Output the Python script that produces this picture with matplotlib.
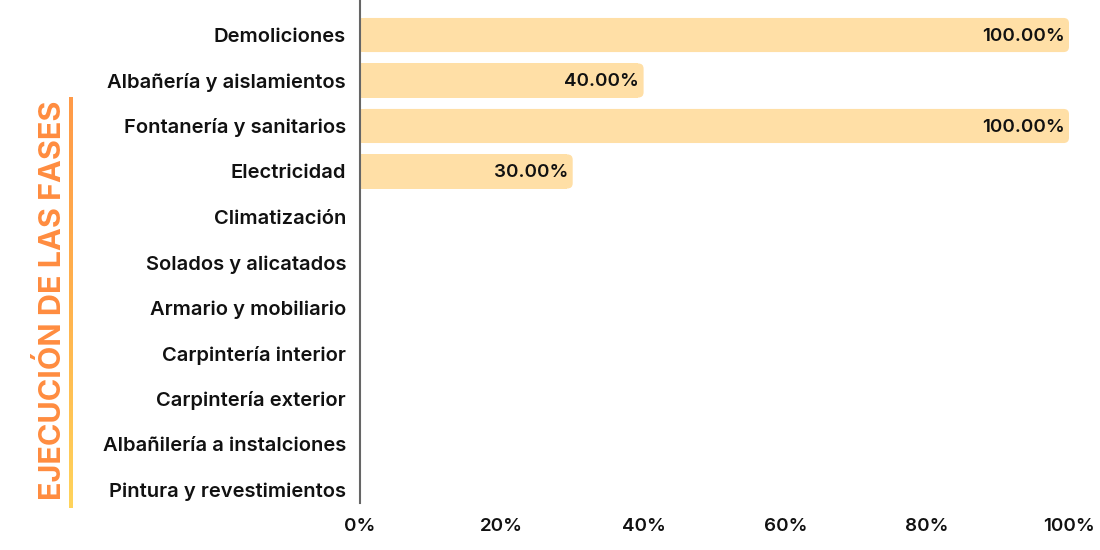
import matplotlib.pyplot as plt
import numpy as np
from matplotlib.patches import FancyBboxPatch, Rectangle
from matplotlib.colors import LinearSegmentedColormap
from matplotlib.ticker import FuncFormatter

phases = [
    "Demoliciones",
    "Albañería y aislamientos",
    "Fontanería y sanitarios",
    "Electricidad",
    "Climatización",
    "Solados y alicatados",
    "Armario y mobiliario",
    "Carpintería interior",
    "Carpintería exterior",
    "Albañilería a instalciones",
    "Pintura y revestimientos",
]
progress = [100, 40, 100, 30, 0, 0, 0, 0, 0, 0, 0]
x_ticks = [0, 20, 40, 60, 80, 100]
side_title = "EJECUCIÓN DE LAS FASES"

BAR_COLOR = "#FFDFA6"
TEXT_COLOR = "#111111"
LABEL_SIZE = 14.5
VALUE_SIZE = 13.5

plt.rcParams["font.family"] = ["Inter", "Open Sans", "DejaVu Sans"]

W, H = 1100, 550
fig = plt.figure(figsize=(W / 100, H / 100), dpi=100)
ax = fig.add_axes([360 / W, 47 / H, 709 / W, 503 / H])

n = len(phases)
ax.set_xlim(0, 100)
ax.set_ylim(n - 1 + 0.29, -0.77)

bar_h = 0.75
rx = 0.75  # corner radius in x units (~5 px)
aspect = (503 / (n + 0.06)) / (709 / 100)
for i, v in enumerate(progress):
    if v <= 0:
        continue
    ax.add_patch(Rectangle((0, i - bar_h / 2), v - rx, bar_h,
                           facecolor=BAR_COLOR, edgecolor="none"))
    ax.add_patch(FancyBboxPatch((0, i - bar_h / 2), v, bar_h,
                                boxstyle=f"round,pad=0,rounding_size={rx}",
                                mutation_aspect=1 / aspect,
                                facecolor=BAR_COLOR, edgecolor="none"))
    ax.text(v - 0.6, i + 0.03, f"{v:.2f}%", ha="right", va="center",
            fontsize=VALUE_SIZE, fontweight="semibold", color=TEXT_COLOR)

ax.set_yticks(range(n))
ax.set_yticklabels(phases, fontsize=LABEL_SIZE, fontweight="semibold", color=TEXT_COLOR)
ax.set_xticks(x_ticks)
ax.xaxis.set_major_formatter(FuncFormatter(lambda x, _: f"{x:.0f}%"))
for lbl in ax.get_xticklabels():
    lbl.set_fontsize(VALUE_SIZE)
    lbl.set_fontweight("semibold")
    lbl.set_color(TEXT_COLOR)
ax.tick_params(axis="both", length=0)
ax.tick_params(axis="y", pad=10)
ax.tick_params(axis="x", pad=11)

for side in ["top", "right", "bottom"]:
    ax.spines[side].set_visible(False)
ax.spines["left"].set_color("#666666")
ax.spines["left"].set_linewidth(1.5)

# side title with gradient rule
fig.text(52 / W, 1 - 300 / H, side_title, rotation=90, ha="center", va="center",
         fontsize=22, fontweight="bold", color="#FF8C3F")
gax = fig.add_axes([69 / W, 42 / H, 4 / W, 411 / H])
cmap = LinearSegmentedColormap.from_list("fase", ["#FF9A48", "#FFB24E", "#FFD45C"])
gax.imshow(np.linspace(0, 1, 256).reshape(-1, 1), aspect="auto", cmap=cmap)
gax.axis("off")

fig.savefig("out.png", dpi=100)
